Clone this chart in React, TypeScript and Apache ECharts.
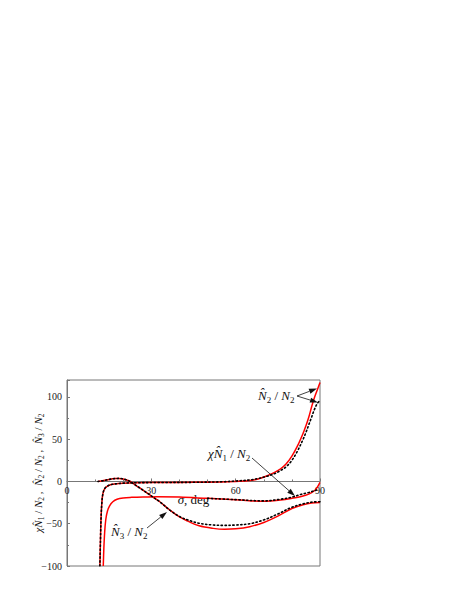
import React, { useEffect, useRef } from "react";
import * as echarts from "echarts";

// ---- data (sigma in degrees, values dimensionless) ----
const sigmaN3 = [11, 13, 15, 17, 18.5, 20, 21.5, 22.5, 24, 26, 28, 29.5, 31, 33, 36.6, 40, 43, 47, 52, 56, 60, 65, 70, 75, 80, 84, 87, 90];
const n3Solid = [0, 1, 2.4, 3.4, 3.6, 3.0, 1.4, 0, -3.5, -8, -12.5, -16, -19.5, -24, -34, -42, -47, -52.5, -55.5, -56.5, -56, -53.5, -48.5, -41, -32, -27.5, -25.5, -25];
const n3Dotted = [0, 1, 2.4, 3.4, 3.6, 3.0, 1.4, 0, -3.5, -8, -12.5, -16, -19.5, -24, -34, -41.5, -45.5, -49.5, -51.5, -52, -51.5, -50, -45.5, -38.5, -30.5, -26.5, -24.5, -24];

const sigmaN2 = [11.7, 11.9, 12.1, 12.4, 12.8, 13.5, 15, 17, 20, 25, 35, 45, 55, 60, 65, 68, 71, 74, 76, 78, 80, 82, 84, 85, 86, 87, 88, 89, 90];
const n2Solid = [-100, -70, -45, -25, -14, -8, -4.5, -3, -2, -1.5, -1.2, -1, -0.6, 0, 1, 3, 6.5, 11, 15, 21, 30, 42, 57, 66, 76, 88, 99, 108, 117];
const n2Dotted = [-100, -70, -45, -25, -14, -8, -4.5, -3, -2, -1.5, -1.2, -1, -0.4, 0.5, 1.8, 3.5, 6, 9.5, 13, 17.5, 25, 36, 50, 58, 67, 76, 85, 92, 96];

const sigmaN1 = [12.9, 13.1, 13.4, 13.8, 14.4, 15.2, 16.3, 17.8, 20, 23, 27, 32, 40, 50, 60, 70, 76, 80, 83, 86, 88, 89, 90];
const n1Solid = [-100, -80, -60, -45, -35, -28.5, -24, -21, -19.5, -18.8, -18.3, -18, -18.5, -20, -21.5, -23.5, -22, -20, -18, -15, -11, -7, -1];
const sigmaN1Dot = [50, 60, 70, 76, 80, 83, 86, 88, 89.5];
const n1Dotted = [-20, -21.5, -23, -21, -18.5, -15.5, -13, -11, -9.5];

const xTicks = [0, 30, 60, 90];
const yTicks = [-100, -50, 0, 50, 100];

const pairs = (xs: number[], ys: number[]) => xs.map((x, i) => [x, ys[i]]);

const SERIF = "Liberation Serif";

const nRich = {
  n: { fontFamily: SERIF, fontStyle: "italic", fontSize: 13, color: "#111", lineHeight: 18 },
  t: { fontFamily: SERIF, fontSize: 13, color: "#111", lineHeight: 18 },
  s: { fontFamily: SERIF, fontSize: 9, color: "#111", lineHeight: 11, verticalAlign: "bottom" },
};
const yRich = {
  n: { fontFamily: SERIF, fontStyle: "italic", fontSize: 11, color: "#111", lineHeight: 15 },
  t: { fontFamily: SERIF, fontSize: 11, color: "#111", lineHeight: 15 },
  s: { fontFamily: SERIF, fontSize: 7.5, color: "#111", lineHeight: 9, verticalAlign: "bottom" },
};

function arrow(x1: number, y1: number, x2: number, y2: number) {
  const dx = x2 - x1, dy = y2 - y1;
  const len = Math.hypot(dx, dy);
  const ux = dx / len, uy = dy / len;
  const L = 8, W = 2.6;
  const bx = x2 - ux * L, by = y2 - uy * L;
  return [
    { type: "line", shape: { x1, y1, x2: bx, y2: by }, style: { stroke: "#111", lineWidth: 0.8 }, z: 100 },
    {
      type: "polygon",
      shape: { points: [[x2, y2], [bx - uy * W, by + ux * W], [bx + uy * W, by - ux * W]] },
      style: { fill: "#111" },
      z: 100,
    },
  ];
}

export default function App() {
  const ref = useRef<HTMLDivElement>(null);
  useEffect(() => {
    if (!ref.current) return;
    const chart = echarts.init(ref.current, null, { renderer: "svg" });
    const red = { color: "#ff0000", width: 1.5 };
    const dot = { color: "#000", width: 1.6, type: [1.3, 2.6] as any, cap: "round" as any };
    const gridTop = 380, gridH = 186, yMin = -100, yMax = 120;
    const zeroOffset = -(gridH * (0 - yMin)) / (yMax - yMin);
    chart.setOption({
      animation: false,
      backgroundColor: "#fff",
      grid: { left: 67, top: gridTop, width: 253, height: gridH, show: true, borderColor: "#777", borderWidth: 1, backgroundColor: "transparent" },
      xAxis: {
        type: "value",
        min: 0,
        max: 90,
        interval: 30,
        position: "bottom",
        offset: zeroOffset,
        name: "{g|σ}{t|, deg}",
        nameLocation: "middle",
        nameGap: 12,
        nameMoveOverlap: false,
        nameTextStyle: {
          rich: {
            g: { fontFamily: SERIF, fontStyle: "italic", fontSize: 13, color: "#111" },
            t: { fontFamily: SERIF, fontSize: 13, color: "#111" },
          },
        },
        axisLine: { onZero: false, lineStyle: { color: "#777", width: 1 } },
        axisTick: { inside: true, length: 3, lineStyle: { color: "#777" } },
        minorTick: { show: true, splitNumber: 3, length: 2, lineStyle: { color: "#777" } },
        axisLabel: {
          fontFamily: SERIF,
          fontSize: 10,
          color: "#222",
          margin: 4,
          formatter: (v: number) => (xTicks.includes(v) ? String(v) : ""),
        },
        splitLine: { show: false },
      },
      yAxis: {
        type: "value",
        min: yMin,
        max: yMax,
        interval: 50,
        name:
          "{n|χN\u0302}{s|1}{t| / }{n|N}{s|2}{t| ,  }{n|N\u0302}{s|2}{t| / }{n|N}{s|2}{t| ,  }{n|N\u0302}{s|3}{t| / }{n|N}{s|2}",
        nameLocation: "middle",
        nameGap: 22,
        nameRotate: 90,
        nameMoveOverlap: false,
        nameTextStyle: { rich: yRich },
        axisLine: { show: true, lineStyle: { color: "#777", width: 1 } },
        axisTick: { inside: true, length: 3, lineStyle: { color: "#777" } },
        minorTick: { show: true, splitNumber: 2, length: 2, lineStyle: { color: "#777" } },
        axisLabel: {
          fontFamily: SERIF,
          fontSize: 10,
          color: "#222",
          margin: 5,
          showMaxLabel: false,
          formatter: (v: number) => (yTicks.includes(v) ? (v < 0 ? "\u2212" + Math.abs(v) : String(v)) : ""),
        },
        splitLine: { show: false },
      },
      series: [
        { type: "line", data: pairs(sigmaN3, n3Solid), showSymbol: false, smooth: 0.35, lineStyle: red, z: 2 },
        { type: "line", data: pairs(sigmaN2, n2Solid), showSymbol: false, smooth: 0.35, lineStyle: red, z: 2 },
        { type: "line", data: pairs(sigmaN1, n1Solid), showSymbol: false, smooth: 0.35, lineStyle: red, z: 2 },
        { type: "line", data: pairs(sigmaN3, n3Dotted), showSymbol: false, smooth: 0.35, lineStyle: dot, z: 3 },
        { type: "line", data: pairs(sigmaN2, n2Dotted), showSymbol: false, smooth: 0.35, lineStyle: dot, z: 3 },
        { type: "line", data: pairs(sigmaN1Dot, n1Dotted), showSymbol: false, smooth: 0.35, lineStyle: dot, z: 3 },
      ],
      graphic: [
        {
          type: "text",
          x: 258,
          y: 386,
          z: 100,
          style: { text: "{n|N\u0302}{s|2}{t| / }{n|N}{s|2}", rich: nRich, fill: "#111" },
        },
        ...arrow(297, 396, 317, 388.5),
        ...arrow(297, 396, 318, 402.5),
        {
          type: "text",
          x: 208,
          y: 444,
          z: 100,
          style: { text: "{n|χN\u0302}{s|1}{t| / }{n|N}{s|2}", rich: nRich, fill: "#111" },
        },
        ...arrow(252, 458, 295, 496),
        {
          type: "text",
          x: 111,
          y: 522,
          z: 100,
          style: { text: "{n|N\u0302}{s|3}{t| / }{n|N}{s|2}", rich: nRich, fill: "#111" },
        },
        ...arrow(147, 528, 167, 512),
      ],
    });
    return () => chart.dispose();
  }, []);
  return <div ref={ref} style={{ position: "fixed", left: 0, top: 0, width: 457, height: 591 }} />;
}
